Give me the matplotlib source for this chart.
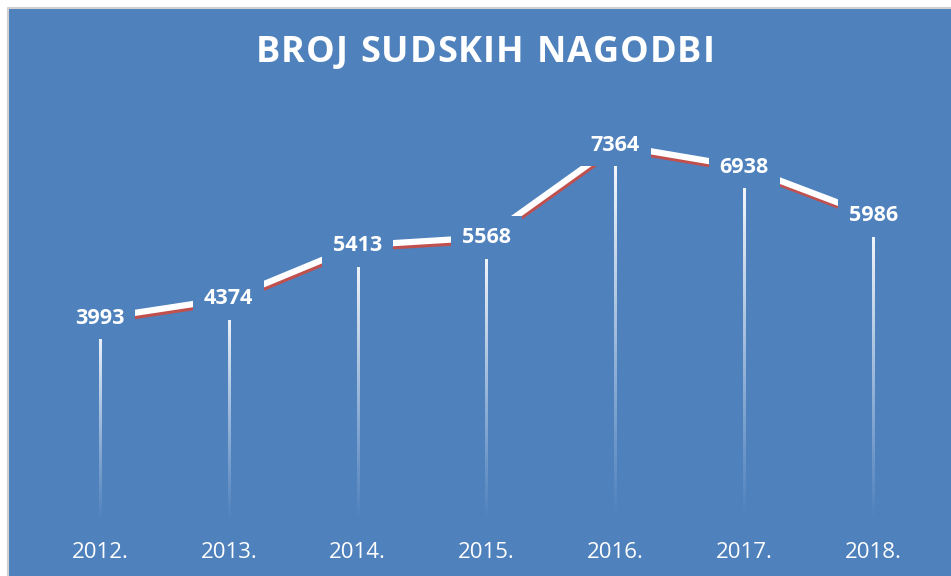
import numpy as np
import matplotlib.pyplot as plt
import matplotlib.patheffects as pe
from matplotlib.patches import Rectangle
from matplotlib.lines import Line2D

godine = ['2012.', '2013.', '2014.', '2015.', '2016.', '2017.', '2018.']
nagodbe = [3993, 4374, 5413, 5568, 7364, 6938, 5986]
naslov = 'BROJ SUDSKIH NAGODBI'

plava = '#4F81BD'
crvena = '#C0504D'
plt.rcParams['font.family'] = ['Open Sans', 'DejaVu Sans']

fig = plt.figure(figsize=(9.51, 5.76), dpi=100)
fig.patch.set_facecolor('white')
# plava pozadina grafikona
x0, y1 = 8 / 951, 1 - 8 / 576
fig.patches.append(Rectangle((x0, 0), 1, y1, transform=fig.transFigure,
                             facecolor=plava, edgecolor='none', zorder=-5))
fig.lines.append(Line2D([x0, x0, 1], [0, y1, y1], transform=fig.transFigure,
                        color='#D0D0D0', linewidth=1.5, zorder=-4))

ax = fig.add_axes([0.0373, 0.092, 0.9485, 0.7125])
ax.set_facecolor('none')
x = np.arange(len(godine))

# okomite linije s prijelazom (bijelo -> prozirno)
grad = np.zeros((200, 1, 4))
grad[..., :3] = 1.0
grad[:, 0, 3] = np.linspace(1.0, 0.0, 200) ** 1.1
pola = 0.0085
for xi, v in zip(x, nagodbe):
    ax.imshow(grad, extent=[xi - pola, xi + pola, 0, v], aspect='auto',
              interpolation='bilinear', zorder=2)

ax.plot(x, nagodbe, color='white', linewidth=4.5, solid_capstyle='butt', zorder=3,
        path_effects=[pe.SimpleLineShadow(offset=(0.6, -2.2), shadow_color=crvena, alpha=1),
                      pe.Normal()])

for xi, v in zip(x, nagodbe):
    ax.text(xi, v, str(v), ha='center', va='center', color='white', fontsize=15.5,
            fontweight='bold', zorder=5,
            bbox=dict(boxstyle='square,pad=0.5', facecolor=plava, edgecolor='none'))

ax.set_xlim(-0.5, len(godine) - 0.5)
ax.set_ylim(0, 8000)
ax.set_xticks(x)
ax.set_xticklabels(godine, color='white', fontsize=16)
ax.tick_params(axis='x', length=0, pad=14)
ax.set_yticks([])
for s in ax.spines.values():
    s.set_visible(False)

# naslov s razmakom izmedu slova
fig.canvas.draw()
r = fig.canvas.get_renderer()
razmak = 1.0
sirine = []
for ch in naslov:
    t = fig.text(0, 0, ch if ch != ' ' else 'I', fontsize=26, fontweight='bold')
    w = t.get_window_extent(r).width
    if ch == ' ':
        w *= 0.9
    sirine.append(w)
    t.remove()
ukupno = sum(sirine) + razmak * (len(naslov) - 1)
px = 485 - ukupno / 2
for ch, w in zip(naslov, sirine):
    fig.text(px / 951, 1 - 53 / 576, ch, ha='left', va='center', color='white',
             fontsize=26, fontweight='bold')
    px += w + razmak

fig.savefig('out.png', dpi=100, facecolor=fig.get_facecolor())
